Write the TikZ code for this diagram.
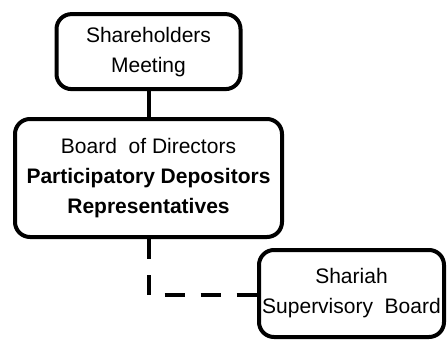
\documentclass[tikz,border=0pt]{standalone}
\usepackage{fontspec}
\setmainfont{Liberation Sans}
\begin{document}
\begin{tikzpicture}[x=1pt,y=1pt,
  unit/.style={draw, line width=2pt, rounded corners=7.5pt, align=center,
    inner sep=0pt, font=\fontsize{10.5}{15}\selectfont}]
\useasboundingbox (0,0) rectangle (224,-171);

\node[unit, minimum width=92pt, minimum height=37.5pt] (meeting) at (74.25,-25.8) {Shareholders\\Meeting};
\node[unit, minimum width=133.5pt, minimum height=59pt] (board) at (74.25,-89) {Board\ \ of Directors\\\textbf{Participatory Depositors}\\\textbf{Representatives}};
\node[unit, minimum width=92.5pt, minimum height=43.5pt] (shariah) at (175.75,-146.75) {Shariah\\Supervisory\ \ Board};

\coordinate (bend) at (74.25,-147.5);

\path[draw,line width=2pt] (meeting.south) -- (board.north);
\path[draw,line width=2pt,dash pattern=on 10pt off 8pt] (board.south) -- (bend) -- (shariah.west |- bend);
\end{tikzpicture}
\end{document}
